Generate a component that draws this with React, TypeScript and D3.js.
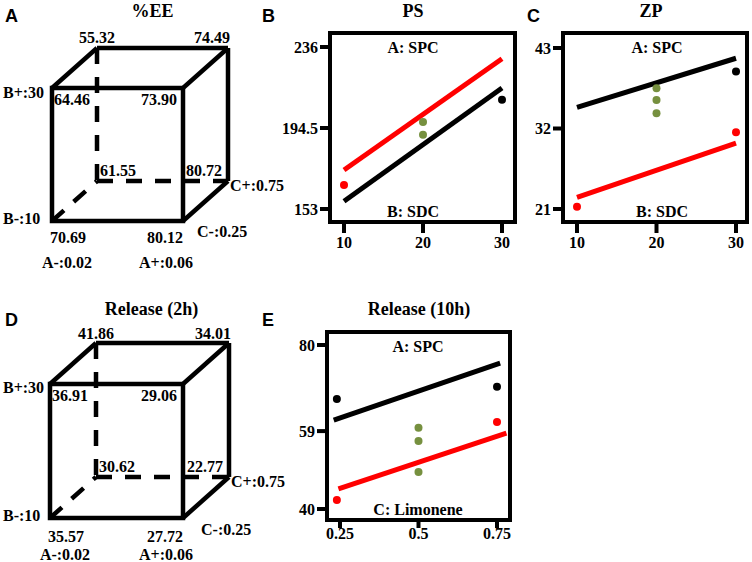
import React from "react";
import * as d3 from "d3";

// ---------- Data ----------
// Cube corner order: backTopLeft, backTopRight, frontTopLeft, frontTopRight,
// backBottomLeft, backBottomRight, frontBottomLeft, frontBottomRight
const eeValues = ["55.32", "74.49", "64.46", "73.90", "61.55", "80.72", "70.69", "80.12"];
const release2hValues = ["41.86", "34.01", "36.91", "29.06", "30.62", "22.77", "35.57", "27.72"];
const factorLabels = ["A-:0.02", "A+:0.06", "B-:10", "B+:30", "C-:0.25", "C+:0.75"];

// Panel B (PS)
const psXTicks = [10, 20, 30];
const psYTicks = [153, 194.5, 236];
const psRedLine: [number, number][] = [[10, 173], [30, 230]];
const psBlackLine: [number, number][] = [[10, 157], [30, 215]];
const psRedPts: [number, number][] = [[10, 165.3]];
const psBlackPts: [number, number][] = [[30, 209]];
const psGreenPts: [number, number][] = [[20, 197.6], [20, 191]];

// Panel C (ZP)
const zpXTicks = [10, 20, 30];
const zpYTicks = [21, 32, 43];
const zpBlackLine: [number, number][] = [[10, 34.9], [30, 41.6]];
const zpRedLine: [number, number][] = [[10, 22.6], [30, 30]];
const zpRedPts: [number, number][] = [[10, 21.3], [30, 31.5]];
const zpBlackPts: [number, number][] = [[30, 39.8]];
const zpGreenPts: [number, number][] = [[20, 37.5], [20, 35.9], [20, 34.1]];

// Panel E (Release 10h)
const r10XTicks = [0.25, 0.5, 0.75];
const r10XTickLabels = ["0.25", "0.5", "0.75"];
const r10YTicks = [40, 59, 80];
const r10BlackLine: [number, number][] = [[0.23, 61.7], [0.76, 75.6]];
const r10RedLine: [number, number][] = [[0.245, 44.9], [0.78, 58.5]];
const r10BlackPts: [number, number][] = [[0.24, 66.8], [0.75, 69.8]];
const r10RedPts: [number, number][] = [[0.24, 42.2], [0.75, 61.2]];
const r10GreenPts: [number, number][] = [[0.5, 59.8], [0.5, 56.6], [0.5, 49.0]];

const SERIF = "'Liberation Serif', 'Times New Roman', serif";
const SANS = "'Liberation Sans', Arial, sans-serif";
const RED = "#ff0000";
const GREEN = "#76903f";

type CubeProps = {
  x0: number; y0: number; w: number; h: number; ox: number; oy: number;
  values: string[]; title: string; letter: string;
  titleY: number; letterY: number; topLabelY: number;
  valDy: number; facDy: number; bTopDy: number; bBotDy: number;
  cPlusDy: number; cMinusDy: number; cMinusDx: number;
};

function Cube(p: CubeProps) {
  const { x0, y0, w, h, ox, oy, values } = p;
  const xs = d3.scaleLinear().domain([-1, 1]).range([x0, x0 + w]);
  const ys = d3.scaleLinear().domain([-1, 1]).range([y0 + h, y0]);
  const fx = (a: number) => xs(a);
  const fy = (b: number) => ys(b);
  const bx = (a: number) => xs(a) + ox;
  const by = (b: number) => ys(b) + oy;
  const sw = 4.5;
  const line = (x1: number, y1: number, x2: number, y2: number, dashed = false, key = "") => (
    <line key={key} x1={x1} y1={y1} x2={x2} y2={y2} stroke="#000" strokeWidth={sw}
      strokeDasharray={dashed ? "16,13" : undefined} strokeLinecap="butt" />
  );
  const ts = { fontFamily: SERIF, fontWeight: "bold" as const, fontSize: 16, fill: "#000" };
  return (
    <g>
      <text x={x0 + w / 2 + 35} y={p.titleY} textAnchor="middle" style={{ ...ts, fontSize: 18 }}>{p.title}</text>
      <text x={5} y={p.letterY} style={{ fontFamily: SANS, fontWeight: "bold", fontSize: 18 }}>{p.letter}</text>
      {/* dashed hidden edges */}
      {line(bx(-1), by(1), bx(-1), by(-1), true, "d1")}
      {line(bx(-1), by(-1), bx(1), by(-1), true, "d2")}
      {line(fx(-1), fy(-1), bx(-1), by(-1), true, "d3")}
      {/* back solid edges */}
      {line(bx(-1), by(1), bx(1), by(1), false, "s1")}
      {line(bx(1), by(1), bx(1), by(-1), false, "s2")}
      {line(fx(-1), fy(1), bx(-1), by(1), false, "s3")}
      {line(fx(1), fy(1), bx(1), by(1), false, "s4")}
      {line(fx(1), fy(-1), bx(1), by(-1), false, "s5")}
      <rect x={fx(-1)} y={fy(1)} width={w} height={h} fill="none" stroke="#000" strokeWidth={sw} />
      {/* corner values */}
      <text x={bx(-1)} y={p.topLabelY} textAnchor="middle" style={ts}>{values[0]}</text>
      <text x={bx(1) + 2} y={p.topLabelY} textAnchor="end" style={ts}>{values[1]}</text>
      <text x={fx(-1) + 2} y={fy(1) + 17} style={ts}>{values[2]}</text>
      <text x={fx(1) - 6} y={fy(1) + 17} textAnchor="end" style={ts}>{values[3]}</text>
      <text x={bx(-1) + 3} y={by(-1) - 5} style={ts}>{values[4]}</text>
      <text x={bx(1) - 6} y={by(-1) - 5} textAnchor="end" style={ts}>{values[5]}</text>
      <text x={fx(-1) + 16} y={fy(-1) + p.valDy} textAnchor="middle" style={ts}>{values[6]}</text>
      <text x={fx(1)} y={fy(-1) + p.valDy} textAnchor="end" style={ts}>{values[7]}</text>
      {/* factor labels */}
      <text x={fx(-1) + 15} y={fy(-1) + p.facDy} textAnchor="middle" style={ts}>{factorLabels[0]}</text>
      <text x={fx(1) - 17} y={fy(-1) + p.facDy} textAnchor="middle" style={ts}>{factorLabels[1]}</text>
      <text x={3} y={fy(-1) + p.bBotDy} style={ts}>{factorLabels[2]}</text>
      <text x={3} y={fy(1) + p.bTopDy} style={ts}>{factorLabels[3]}</text>
      <text x={fx(1) + p.cMinusDx} y={fy(-1) + p.cMinusDy} style={ts}>{factorLabels[4]}</text>
      <text x={bx(1) + 2} y={by(-1) + p.cPlusDy} style={ts}>{factorLabels[5]}</text>
    </g>
  );
}

type PlotProps = {
  frame: [number, number, number, number]; // left, top, right, bottom
  xDomain: [number, number]; xRange: [number, number];
  yDomain: [number, number]; yRange: [number, number];
  xTicks: number[]; xTickLabels?: string[]; yTicks: number[];
  lines: { data: [number, number][]; color: string }[];
  points: { data: [number, number][]; color: string }[];
  title: string; titleX: number; titleY: number;
  letter: string; letterX: number; letterY: number;
  topText: string; topTextX: number; topTextY: number;
  botText: string; botTextX: number; botTextY: number;
  xTickLen: number; xLabelY: number;
};

function Plot(p: PlotProps) {
  const x = d3.scaleLinear().domain(p.xDomain).range(p.xRange);
  const y = d3.scaleLinear().domain(p.yDomain).range(p.yRange);
  const [L, T, R, B] = p.frame;
  const lineGen = d3.line<[number, number]>().x(d => x(d[0])).y(d => y(d[1]));
  const ts = { fontFamily: SERIF, fontWeight: "bold" as const, fontSize: 16, fill: "#000" };
  return (
    <g>
      <text x={p.titleX} y={p.titleY} textAnchor="middle" style={{ ...ts, fontSize: 18 }}>{p.title}</text>
      <text x={p.letterX} y={p.letterY} style={{ fontFamily: SANS, fontWeight: "bold", fontSize: 18 }}>{p.letter}</text>
      {p.lines.map((l, i) => (
        <path key={"l" + i} d={lineGen(l.data) || ""} stroke={l.color} strokeWidth={5} fill="none" />
      ))}
      {p.points.map((s, i) => s.data.map((d, j) => (
        <circle key={"p" + i + "_" + j} cx={x(d[0])} cy={y(d[1])} r={4} fill={s.color} />
      )))}
      <rect x={L} y={T} width={R - L} height={B - T} fill="none" stroke="#000" strokeWidth={4} />
      {p.yTicks.map((t, i) => (
        <g key={"yt" + i}>
          <line x1={L - 10} x2={L} y1={y(t)} y2={y(t)} stroke="#000" strokeWidth={4} />
          <text x={L - 12} y={y(t)} dy="0.35em" textAnchor="end" style={ts}>{String(t)}</text>
        </g>
      ))}
      {p.xTicks.map((t, i) => (
        <g key={"xt" + i}>
          <line x1={x(t)} x2={x(t)} y1={B} y2={B + p.xTickLen} stroke="#000" strokeWidth={4} />
          <text x={x(t)} y={p.xLabelY} textAnchor="middle" style={ts}>
            {p.xTickLabels ? p.xTickLabels[i] : String(t)}
          </text>
        </g>
      ))}
      <text x={p.topTextX} y={p.topTextY} textAnchor="middle" style={ts}>{p.topText}</text>
      <text x={p.botTextX} y={p.botTextY} textAnchor="middle" style={ts}>{p.botText}</text>
    </g>
  );
}

export default function App() {
  return (
    <svg width={752} height={562} style={{ position: "absolute", left: 0, top: 0, background: "#fff" }}>
      <rect x={0} y={0} width={752} height={562} fill="#fff" />
      <Cube x0={52} y0={88} w={131} h={133} ox={45} oy={-40} values={eeValues}
        title="%EE" letter="A" titleY={17} letterY={22} topLabelY={43}
        valDy={22} facDy={47} bTopDy={10} bBotDy={3} cPlusDy={10} cMinusDy={16} cMinusDx={14} />
      <Cube x0={50} y0={384} w={133} h={134} ox={46} oy={-41} values={release2hValues}
        title="Release (2h)" letter="D" titleY={315} letterY={326} topLabelY={339}
        valDy={24} facDy={42} bTopDy={9} bBotDy={3} cPlusDy={10} cMinusDy={17} cMinusDx={18} />
      <Plot frame={[330, 33, 515, 222]} xDomain={[10, 30]} xRange={[344, 502]}
        yDomain={[153, 236]} yRange={[209, 47]} xTicks={psXTicks} yTicks={psYTicks}
        lines={[{ data: psRedLine, color: RED }, { data: psBlackLine, color: "#000" }]}
        points={[{ data: psRedPts, color: RED }, { data: psBlackPts, color: "#000" }, { data: psGreenPts, color: GREEN }]}
        title="PS" titleX={413} titleY={17} letter="B" letterX={262} letterY={22}
        topText="A: SPC" topTextX={413} topTextY={53} botText="B: SDC" botTextX={413} botTextY={217}
        xTickLen={11} xLabelY={248} />
      <Plot frame={[563, 33, 747, 222]} xDomain={[10, 30]} xRange={[577, 736]}
        yDomain={[21, 43]} yRange={[209, 48]} xTicks={zpXTicks} yTicks={zpYTicks}
        lines={[{ data: zpBlackLine, color: "#000" }, { data: zpRedLine, color: RED }]}
        points={[{ data: zpRedPts, color: RED }, { data: zpBlackPts, color: "#000" }, { data: zpGreenPts, color: GREEN }]}
        title="ZP" titleX={651} titleY={17} letter="C" letterX={527} letterY={22}
        topText="A: SPC" topTextX={657} topTextY={53} botText="B: SDC" botTextX={662} botTextY={217}
        xTickLen={11} xLabelY={248} />
      <Plot frame={[327, 332, 510, 520]} xDomain={[0.25, 0.75]} xRange={[340, 497]}
        yDomain={[40, 80]} yRange={[509, 345]} xTicks={r10XTicks} xTickLabels={r10XTickLabels} yTicks={r10YTicks}
        lines={[{ data: r10BlackLine, color: "#000" }, { data: r10RedLine, color: RED }]}
        points={[{ data: r10BlackPts, color: "#000" }, { data: r10RedPts, color: RED }, { data: r10GreenPts, color: GREEN }]}
        title="Release (10h)" titleX={419} titleY={315} letter="E" letterX={262} letterY={326}
        topText="A: SPC" topTextX={418} topTextY={352} botText="C: Limonene" botTextX={418} botTextY={515}
        xTickLen={8} xLabelY={539} />
    </svg>
  );
}
